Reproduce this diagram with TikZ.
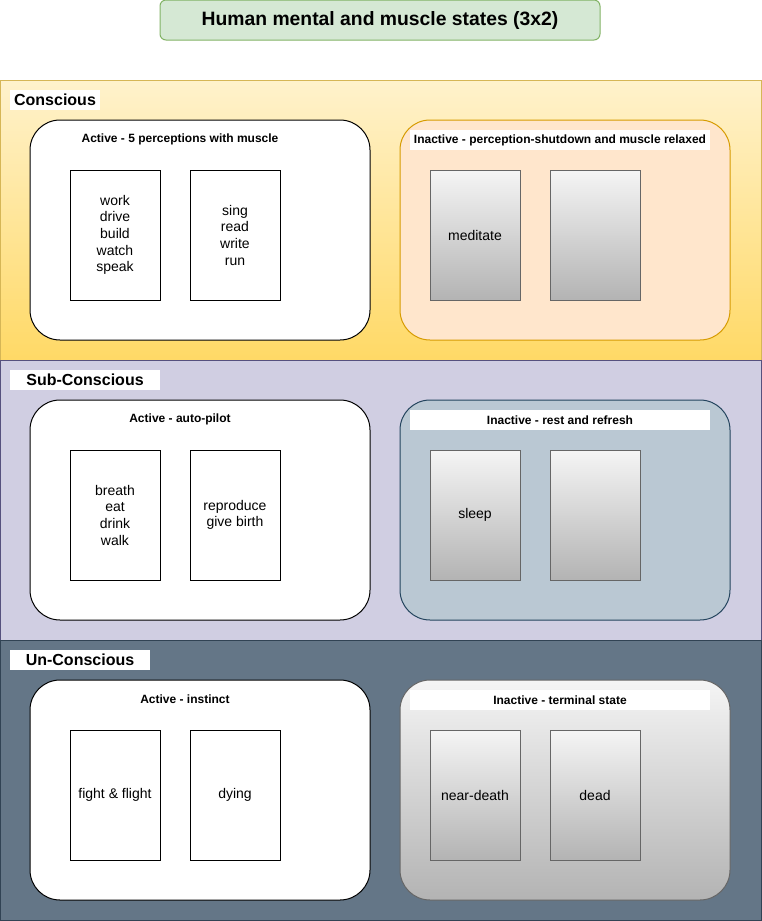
\documentclass[tikz,border=0pt]{standalone}
\usepackage{fontspec}
\setmainfont{Liberation Sans}
\usetikzlibrary{positioning}
\definecolor{TitleFill}{HTML}{D5E8D4}
\definecolor{TitleLine}{HTML}{82B366}
\definecolor{YellowTop}{HTML}{FFF2CC}
\definecolor{YellowBot}{HTML}{FFD966}
\definecolor{YellowLine}{HTML}{D6B656}
\definecolor{OrangeFill}{HTML}{FFE6CC}
\definecolor{OrangeLine}{HTML}{D79B00}
\definecolor{PurpleFill}{HTML}{D0CEE2}
\definecolor{PurpleLine}{HTML}{56517E}
\definecolor{BlueFill}{HTML}{BAC8D3}
\definecolor{BlueLine}{HTML}{23445D}
\definecolor{SlateFill}{HTML}{647687}
\definecolor{SlateLine}{HTML}{314354}
\definecolor{GreyTop}{HTML}{F5F5F5}
\definecolor{GreyBot}{HTML}{B3B3B3}
\definecolor{GreyLine}{HTML}{666666}

\begin{document}
\begin{tikzpicture}[
  x=0.75pt,y=-0.75pt,
  every node/.style={inner sep=0pt,outer sep=0pt},
  band/.style={draw,line width=0.75pt,anchor=north west,minimum width=570.75pt,minimum height=210pt},
  tag/.style={fill=white,anchor=north west,minimum height=15pt,font=\bfseries\fontsize{12}{14}\selectfont},
  group/.style={draw,line width=0.75pt,rounded corners=22.5pt,anchor=north west,minimum height=165pt},
  active/.style={group,fill=white,minimum width=255pt},
  inactive/.style={group,minimum width=247.5pt},
  head/.style={font=\bfseries\fontsize{9}{11}\selectfont},
  headbar/.style={head,fill=white,minimum width=225pt,minimum height=15pt},
  item/.style={draw,line width=0.75pt,anchor=north west,minimum width=67.5pt,minimum height=97.5pt,
               align=center,font=\fontsize{10.5}{12.5}\selectfont},
  grey/.style={item,draw=GreyLine,top color=GreyTop,bottom color=GreyBot}
]
\useasboundingbox (0,0) rectangle (761,921);

% title
\node[draw=TitleLine,fill=TitleFill,line width=0.75pt,rounded corners=4.5pt,minimum width=330pt,minimum height=30pt,
      font=\bfseries\fontsize{14.5}{17}\selectfont] (title) at (380,20) {Human mental and muscle states (3x2)};

% conscious
\node[band,draw=YellowLine,top color=YellowTop,bottom color=YellowBot] (con) at (0,80) {};
\node[tag,minimum width=67.5pt] (conTag) at (10,90) {Conscious};
\node[active] (conAct) at (30,120) {};
\node[head] (conActHead) at (180,139) {Active - 5 perceptions with muscle};
\node[item] (conA1) at (70,170) {work\\drive\\build\\watch\\speak};
\node[item] (conA2) at (190,170) {sing\\read\\write\\run};
\node[inactive,draw=OrangeLine,fill=OrangeFill] (conIna) at (400,120) {};
\node[headbar] (conInaHead) at (560,140) {Inactive - perception-shutdown and muscle relaxed};
\node[grey] (conI1) at (430,170) {meditate};
\node[grey] (conI2) at (550,170) {};

% sub-conscious
\node[band,draw=PurpleLine,fill=PurpleFill] (sub) at (0,360) {};
\node[tag,minimum width=112.5pt] (subTag) at (10,370) {Sub-Conscious};
\node[active] (subAct) at (30,400) {};
\node[head] (subActHead) at (180,419) {Active - auto-pilot};
\node[item] (subA1) at (70,450) {breath\\eat\\drink\\walk};
\node[item] (subA2) at (190,450) {reproduce\\give birth};
\node[inactive,draw=BlueLine,fill=BlueFill] (subIna) at (400,400) {};
\node[headbar] (subInaHead) at (560,420) {Inactive - rest and refresh};
\node[grey] (subI1) at (430,450) {sleep};
\node[grey] (subI2) at (550,450) {};

% un-conscious
\node[band,draw=SlateLine,fill=SlateFill] (un) at (0,640) {};
\node[tag,minimum width=105pt] (unTag) at (10,650) {Un-Conscious};
\node[active] (unAct) at (30,680) {};
\node[head] (unActHead) at (185,699) {Active - instinct};
\node[item] (unA1) at (70,730) {fight \& flight};
\node[item] (unA2) at (190,730) {dying};
\node[inactive,draw=GreyLine,top color=GreyTop,bottom color=GreyBot] (unIna) at (400,680) {};
\node[headbar] (unInaHead) at (560,700) {Inactive - terminal state};
\node[grey] (unI1) at (430,730) {near-death};
\node[grey] (unI2) at (550,730) {dead};
\end{tikzpicture}
\end{document}
